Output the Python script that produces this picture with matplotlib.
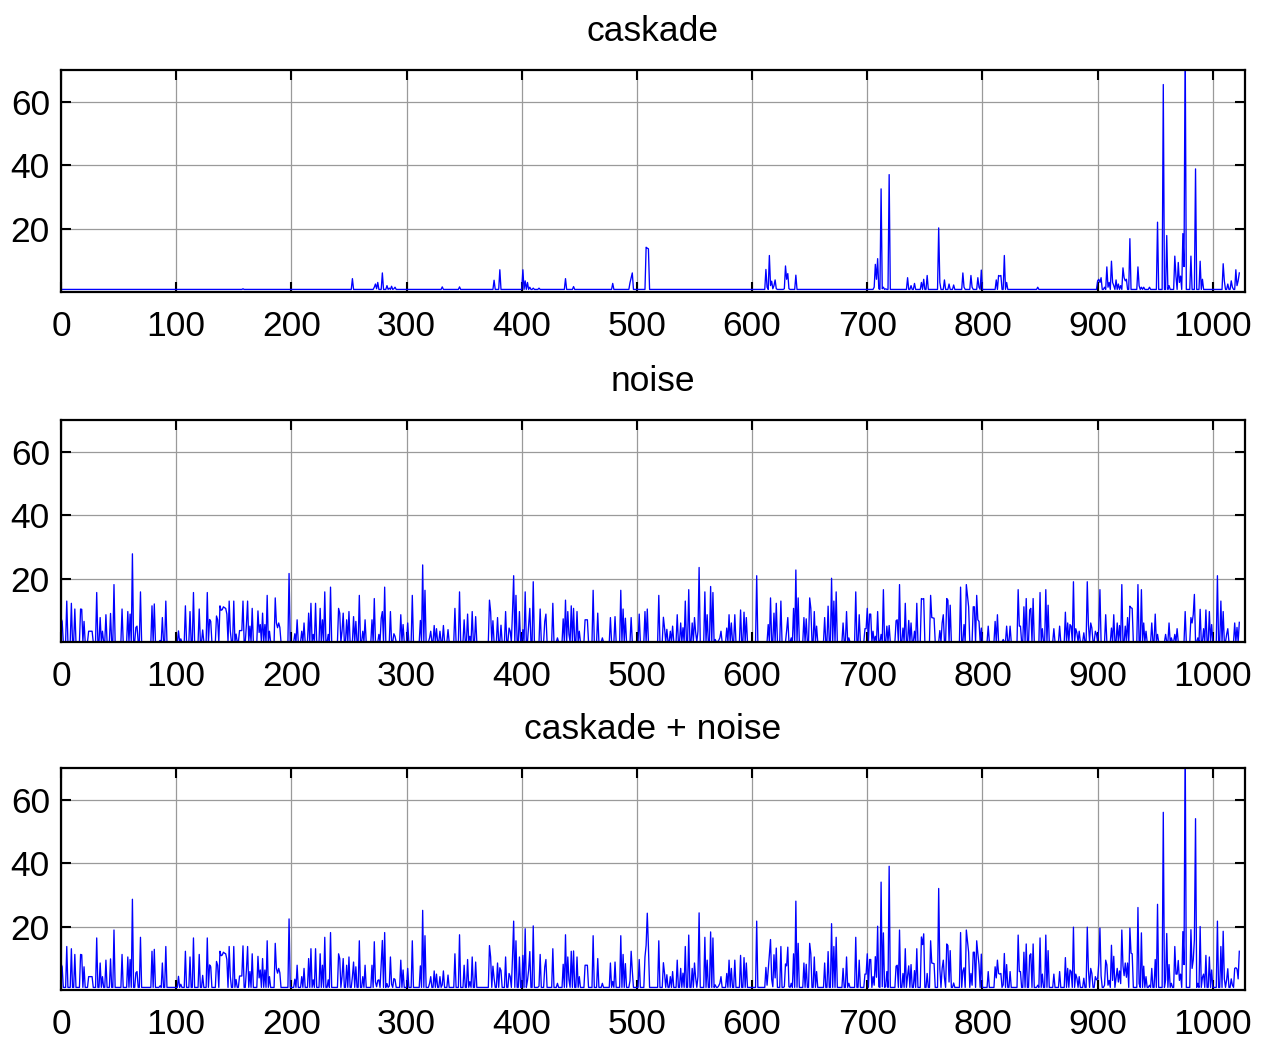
import numpy as np
import matplotlib
matplotlib.use("Agg")
import matplotlib.pyplot as plt

plt.rcParams['font.family'] = ['Liberation Sans', 'DejaVu Sans']

N = 1024
x_max = 1028
y_max = 70
x_ticks = list(range(0, 1001, 100))
y_ticks = [20, 40, 60]
titles = ['caskade', 'noise', 'caskade + noise']

# caskade: flat floor with sparse bursts (sample index, value)
caskade_floor = 0.8
caskade_pts = [
    (158, 1.0),
    (253, 4.2),
    (272, 1.5), (273, 2.5), (274, 1.0), (275, 3.0), (279, 6.0), (283, 2.0),
    (285, 1.2), (287, 1.8), (289, 1.0), (290, 1.5),
    (331, 1.6), (346, 1.6),
    (376, 3.7), (381, 7.0),
    (401, 7.0), (403, 3.5), (405, 3.0), (407, 1.5), (410, 1.2), (415, 1.2),
    (438, 4.2), (445, 1.7), (479, 2.7),
    (494, 2.9), (495, 4.5), (496, 6.0),
    (508, 14.1), (509, 13.8), (510, 13.6),
    (612, 7.1), (613, 1.5), (615, 11.5), (616, 2.0), (617, 3.4), (618, 1.0),
    (619, 2.0), (620, 3.8), (621, 1.0), (628, 1.0), (629, 8.2), (630, 4.0),
    (631, 5.8), (632, 1.0), (638, 5.3),
    (706, 1.5), (707, 8.7), (708, 4.0), (709, 10.5), (710, 1.0), (712, 32.5),
    (713, 1.0), (714, 1.5), (716, 1.0), (719, 37.0),
    (735, 4.5), (738, 2.0), (741, 2.7), (747, 3.0), (749, 4.0), (752, 5.2),
    (762, 20.2), (763, 3.0), (767, 3.8), (771, 2.5), (775, 2.2), (783, 6.0),
    (784, 1.5), (790, 5.2), (791, 1.5), (796, 4.5), (797, 1.5), (799, 6.9),
    (812, 3.8), (814, 5.2), (815, 5.0), (816, 5.2), (819, 11.5), (821, 3.0),
    (848, 1.5),
    (900, 3.5), (901, 4.0), (902, 3.0), (903, 4.5), (906, 1.5), (908, 7.9),
    (909, 1.5), (910, 3.0), (912, 9.7), (913, 3.0), (914, 2.0), (916, 3.8),
    (918, 2.5), (920, 2.0), (922, 7.6), (923, 4.5), (924, 3.5), (925, 4.0),
    (928, 16.8), (935, 7.9), (936, 2.0), (938, 1.5), (940, 1.5), (945, 1.5),
    (952, 22.0), (957, 65.4), (960, 17.8), (962, 2.0), (967, 11.3), (968, 5.0),
    (970, 9.3), (971, 3.0), (972, 5.0), (974, 18.4), (975, 8.0), (976, 80.0),
    (981, 11.3), (985, 38.8), (989, 9.7), (991, 4.0),
    (1009, 8.9), (1010, 3.5), (1013, 2.5), (1016, 3.5), (1017, 1.5),
    (1020, 7.0), (1021, 2.0), (1022, 3.5), (1023, 6.0),
]

# noise: nonzero samples (sample index, value), everything else is 0
noise_pts = [
    (0, 7.5), (1, 6.5), (5, 12.9), (9, 12.2), (12, 10.4), (17, 10.4), (18, 10.3),
    (20, 6.5), (24, 3.4), (25, 3.4), (26, 3.4), (27, 3.4), (31, 15.6), (34, 7.7),
    (36, 3.4), (39, 8.6), (43, 9.0), (46, 18.1), (53, 10.4), (58, 9.6), (60, 8.8),
    (62, 27.8), (65, 4.6), (66, 5.0), (69, 15.8), (79, 11.4), (81, 12.0),
    (86, 0.5), (88, 7.7), (91, 12.9), (102, 3.5), (104, 1.0), (108, 11.4),
    (112, 9.6), (115, 15.6), (120, 10.4), (123, 3.8), (127, 15.6), (129, 7.1),
    (130, 6.5), (135, 8.2), (136, 7.0), (138, 11.4), (139, 10.0), (140, 10.2),
    (141, 11.1), (142, 10.8), (143, 10.6), (144, 8.8), (146, 12.9), (147, 3.4),
    (150, 12.9), (152, 2.5), (155, 3.6), (156, 3.6), (157, 3.6), (158, 12.9),
    (161, 5.6), (162, 12.9), (164, 5.0), (166, 10.6), (171, 9.8), (172, 3.0),
    (173, 5.5), (175, 9.1), (177, 5.5), (179, 14.7), (181, 3.4), (186, 13.9),
    (187, 6.0), (188, 4.5), (189, 6.0), (190, 4.6), (198, 21.6), (203, 2.6),
    (205, 7.0), (209, 3.4), (211, 6.0), (215, 9.1), (217, 12.2), (219, 2.4),
    (221, 12.2), (225, 10.6), (227, 7.0), (229, 15.8), (232, 2.4), (234, 17.3),
    (241, 10.6), (242, 9.1), (244, 3.4), (245, 9.1), (248, 7.0), (250, 9.6),
    (254, 8.0), (256, 6.5), (259, 14.7), (262, 3.4), (264, 7.0), (270, 7.0),
    (272, 13.7), (276, 2.4), (278, 7.5), (279, 9.6), (281, 17.3), (286, 9.6),
    (289, 2.6), (290, 1.8), (295, 8.6), (297, 5.5), (301, 6.0), (305, 14.7),
    (312, 6.8), (314, 24.3), (316, 16.3), (320, 1.3), (321, 3.4), (324, 5.2),
    (326, 4.2), (329, 3.4), (332, 5.2), (336, 3.9), (342, 10.6), (346, 15.8),
    (350, 7.0), (353, 8.8), (355, 1.8), (357, 9.6), (360, 8.0), (372, 13.2),
    (373, 9.6), (375, 6.7), (379, 7.7), (382, 5.3), (386, 9.6), (389, 4.4),
    (390, 3.4), (392, 9.6), (393, 20.9), (395, 14.7), (398, 9.6), (401, 3.9),
    (403, 15.8), (406, 5.5), (407, 10.6), (410, 19.0), (416, 10.4), (420, 6.5),
    (421, 8.8), (427, 12.2), (431, 1.3), (436, 7.3), (438, 13.2), (440, 9.6),
    (441, 2.4), (443, 11.4), (445, 10.6), (448, 9.6), (450, 3.4), (455, 7.0),
    (456, 7.0), (457, 7.0), (462, 16.3), (466, 9.1), (470, 1.3), (477, 7.7),
    (481, 8.0), (486, 16.3), (488, 10.4), (490, 7.5), (495, 7.7), (502, 8.8),
    (507, 9.6), (509, 10.4), (519, 14.7),
    (523, 7.8), (524, 4.4), (526, 4.0), (529, 3.4), (531, 5.0), (535, 8.6),
    (538, 6.0), (540, 4.5), (542, 12.9), (545, 16.5), (548, 6.0), (550, 7.7),
    (551, 3.0), (553, 3.4), (554, 23.5), (559, 15.8), (561, 8.6), (564, 17.5),
    (566, 15.6), (568, 0.8), (571, 0.5), (572, 1.3), (573, 3.4), (578, 4.4),
    (580, 8.6), (582, 6.0), (585, 8.6), (590, 10.1), (593, 9.4), (595, 7.7),
    (604, 20.9), (614, 5.5), (616, 13.9), (619, 9.1), (621, 12.2), (625, 12.9),
    (630, 3.6), (631, 7.7), (634, 1.3), (636, 10.6), (638, 22.7), (640, 13.9),
    (645, 7.7), (647, 7.3), (650, 13.9), (651, 10.6), (654, 9.6), (656, 5.0),
    (663, 7.7), (666, 11.3), (669, 20.1), (671, 12.9), (673, 15.8), (679, 6.0),
    (682, 9.6), (684, 1.3), (690, 15.8),
    (693, 8.6), (698, 4.2), (699, 4.2), (700, 10.6), (702, 8.8), (703, 8.8),
    (705, 3.4), (707, 1.8), (709, 9.6), (712, 2.4), (714, 16.5), (717, 5.0),
    (719, 5.2), (725, 6.7), (726, 7.0), (728, 18.1), (731, 4.4), (733, 12.2),
    (736, 6.8), (738, 6.0), (741, 3.4), (743, 12.2), (747, 13.7), (748, 13.5),
    (749, 13.7), (755, 14.7), (756, 7.7), (757, 7.6), (758, 7.5), (763, 3.6),
    (765, 6.0), (766, 8.6), (769, 13.7), (770, 13.2), (772, 11.6), (781, 17.3),
    (784, 5.5), (786, 18.1), (787, 14.7), (788, 11.1), (792, 11.1), (793, 11.1),
    (795, 14.7), (796, 7.0), (797, 6.5), (799, 4.4), (805, 5.0), (811, 6.5),
    (813, 8.6), (818, 0.8), (821, 5.0), (824, 5.0), (831, 16.5), (832, 5.0),
    (833, 5.0), (836, 11.1), (838, 13.7), (841, 10.1), (842, 10.6), (844, 13.7),
    (850, 15.6), (852, 4.2), (855, 16.5), (857, 11.6),
    (862, 4.2), (867, 5.0), (872, 9.4), (874, 6.0), (876, 5.5), (877, 5.0),
    (879, 19.0), (881, 4.2), (882, 2.9), (884, 3.4), (888, 2.9), (891, 19.0),
    (892, 5.5), (894, 6.0), (895, 4.4), (898, 3.4), (899, 2.4), (901, 4.4),
    (902, 16.5), (907, 8.6), (912, 4.4), (914, 8.6), (917, 6.0), (919, 5.2),
    (921, 18.1), (924, 5.0), (926, 7.7), (928, 11.3), (929, 10.8), (930, 10.6),
    (935, 18.1), (938, 16.5), (940, 6.0), (942, 3.4), (947, 6.0), (950, 8.8),
    (952, 2.4), (959, 2.4), (962, 6.0), (964, 1.3), (967, 2.4), (969, 4.2),
    (976, 9.6), (981, 7.7), (982, 6.0), (983, 8.6), (984, 15.0), (987, 1.3),
    (989, 10.3), (992, 4.2), (994, 10.1), (997, 9.6), (999, 5.5), (1004, 20.9),
    (1007, 12.9), (1009, 9.6), (1012, 2.4), (1013, 4.2), (1019, 6.0),
    (1021, 4.6), (1023, 6.2),
]

# combined signal where the bursts do not simply add up (sample index, value)
combined_pts = [
    (712, 34.0), (719, 39.0), (762, 32.0), (928, 19.5),
    (952, 27.0), (957, 56.0), (976, 80.0), (985, 54.0),
]

samples = np.arange(N)

caskade = np.full(N, caskade_floor)
for i, v in caskade_pts:
    caskade[i] = v

noise = np.zeros(N)
for i, v in noise_pts:
    noise[i] = v

combined = caskade + noise
for i, v in combined_pts:
    combined[i] = v

series = [caskade, noise, combined]

fig = plt.figure(figsize=(12.63, 10.39), dpi=100)

# axes boxes in figure fractions (left, bottom, width, height)
boxes = [
    (0.0483, 0.719, 0.9375, 0.2137),
    (0.0483, 0.3821, 0.9375, 0.2137),
    (0.0483, 0.0472, 0.9375, 0.2137),
]

for box, y, title in zip(boxes, series, titles):
    ax = fig.add_axes(box)
    ax.plot(samples, y, color='#0000ff', linewidth=0.95)
    ax.set_xlim(0, x_max)
    ax.set_ylim(0, y_max)
    ax.set_xticks(x_ticks)
    ax.set_yticks(y_ticks)
    ax.grid(True, color='#9a9a9a', linewidth=0.9, linestyle='-')
    ax.set_axisbelow(True)
    for s in ax.spines.values():
        s.set_linewidth(1.6)
        s.set_color('black')
    ax.tick_params(direction='in', length=7, width=1.5, top=True, right=True,
                   labelsize=25.5, colors='black')
    ax.tick_params(axis='x', pad=13)
    ax.tick_params(axis='y', pad=8)
    ax.set_title(title, fontsize=25.5, pad=21)

fig.savefig('out.png', dpi=100)
